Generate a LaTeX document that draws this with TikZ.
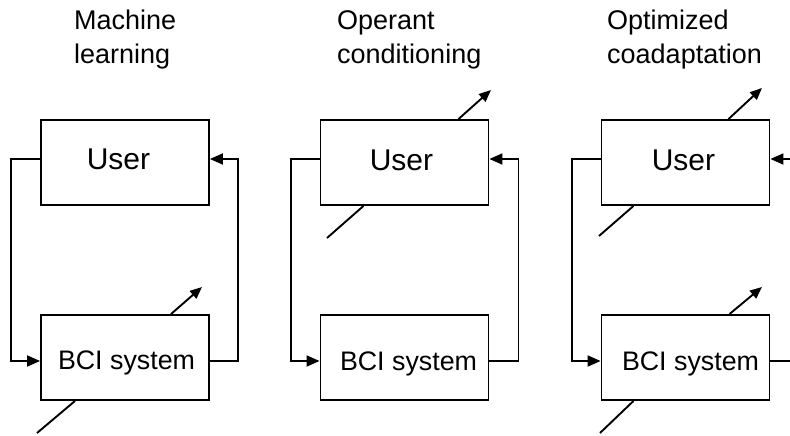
\documentclass[tikz,border=0pt]{standalone}
\usepackage{fontspec}
\setmainfont{Liberation Sans}
\usetikzlibrary{arrows.meta}
\tikzset{
  box/.style={draw, line width=1.9pt, minimum width=168pt, minimum height=85pt, inner sep=0pt},
  usertext/.style={anchor=base, inner sep=0pt, font=\fontsize{30}{36}\selectfont},
  bcitext/.style={anchor=base, inner sep=0pt, font=\fontsize{26.8}{32}\selectfont},
  conn/.style={line width=1.9pt, -{Triangle[length=13pt,width=11pt]}},
  diag/.style={line width=1.9pt, -{Triangle[length=12pt,width=10pt]}},
  diagline/.style={line width=1.9pt},
  ttl/.style={anchor=north west, inner sep=0pt, align=left, font=\fontsize{27}{34}\selectfont}
}
\begin{document}
\begin{tikzpicture}[x=1pt,y=-1pt]
\clip (0,0) rectangle (790,436);
\fill[white] (0,0) rectangle (790,436);

% Panel 1
\node[ttl] (t1) at (74,10) {Machine\\learning};
\node[box] (u1) at (125,162.5) {};
\node[box] (b1) at (125,357.5) {};
\node[usertext] (u1t) at (118.5,169) {User};
\node[bcitext] (b1t) at (126.5,369.5) {BCI system};
\draw[conn] ([yshift=3.5pt]u1.west) -- ++(-29,0) |- ([yshift=-3.5pt]b1.west);
\draw[conn] ([yshift=-3.5pt]b1.east) -- ++(28,0) |- ([yshift=3.5pt]u1.east);
\coordinate (b1a) at (202,287);
\coordinate (b1c) at (37,433);
\draw[diag] ([xshift=46pt]b1.north) -- (b1a);
\draw[diagline] ([xshift=-50pt]b1.south) -- (b1c);

% Panel 2
\node[ttl] (t2) at (337,10) {Operant\\conditioning};
\node[box] (u2) at (404.5,162.5) {};
\node[box] (b2) at (404.5,357.5) {};
\node[usertext] (u2t) at (401.5,170) {User};
\node[bcitext] (b2t) at (408.5,370) {BCI system};
\draw[conn] ([yshift=3.5pt]u2.west) -- ++(-29,0) |- ([yshift=-3.5pt]b2.west);
\draw[conn] ([yshift=-3.5pt]b2.east) -- ++(29,0) |- ([yshift=3.5pt]u2.east);
\coordinate (u2a) at (491,90);
\coordinate (u2c) at (327,238);
\draw[diag] ([xshift=54pt]u2.north) -- (u2a);
\draw[diagline] ([xshift=-41pt]u2.south) -- (u2c);

% Panel 3
\node[ttl] (t3) at (607,10) {Optimized\\coadaptation};
\node[box] (u3) at (685.5,162.5) {};
\node[box] (b3) at (685.5,357.5) {};
\node[usertext] (u3t) at (683.5,170) {User};
\node[bcitext] (b3t) at (690.5,370) {BCI system};
\draw[conn] ([yshift=3.5pt]u3.west) -- ++(-29,0) |- ([yshift=-3.5pt]b3.west);
\draw[conn] ([yshift=-3.5pt]b3.east) -- ++(28,0) |- ([yshift=3.5pt]u3.east);
\coordinate (u3a) at (762,88);
\coordinate (u3c) at (599,236);
\coordinate (b3a) at (762,287);
\coordinate (b3c) at (600,433);
\draw[diag] ([xshift=43pt]u3.north) -- (u3a);
\draw[diagline] ([xshift=-52pt]u3.south) -- (u3c);
\draw[diag] ([xshift=44pt]b3.north) -- (b3a);
\draw[diagline] ([xshift=-52pt]b3.south) -- (b3c);
\end{tikzpicture}
\end{document}
